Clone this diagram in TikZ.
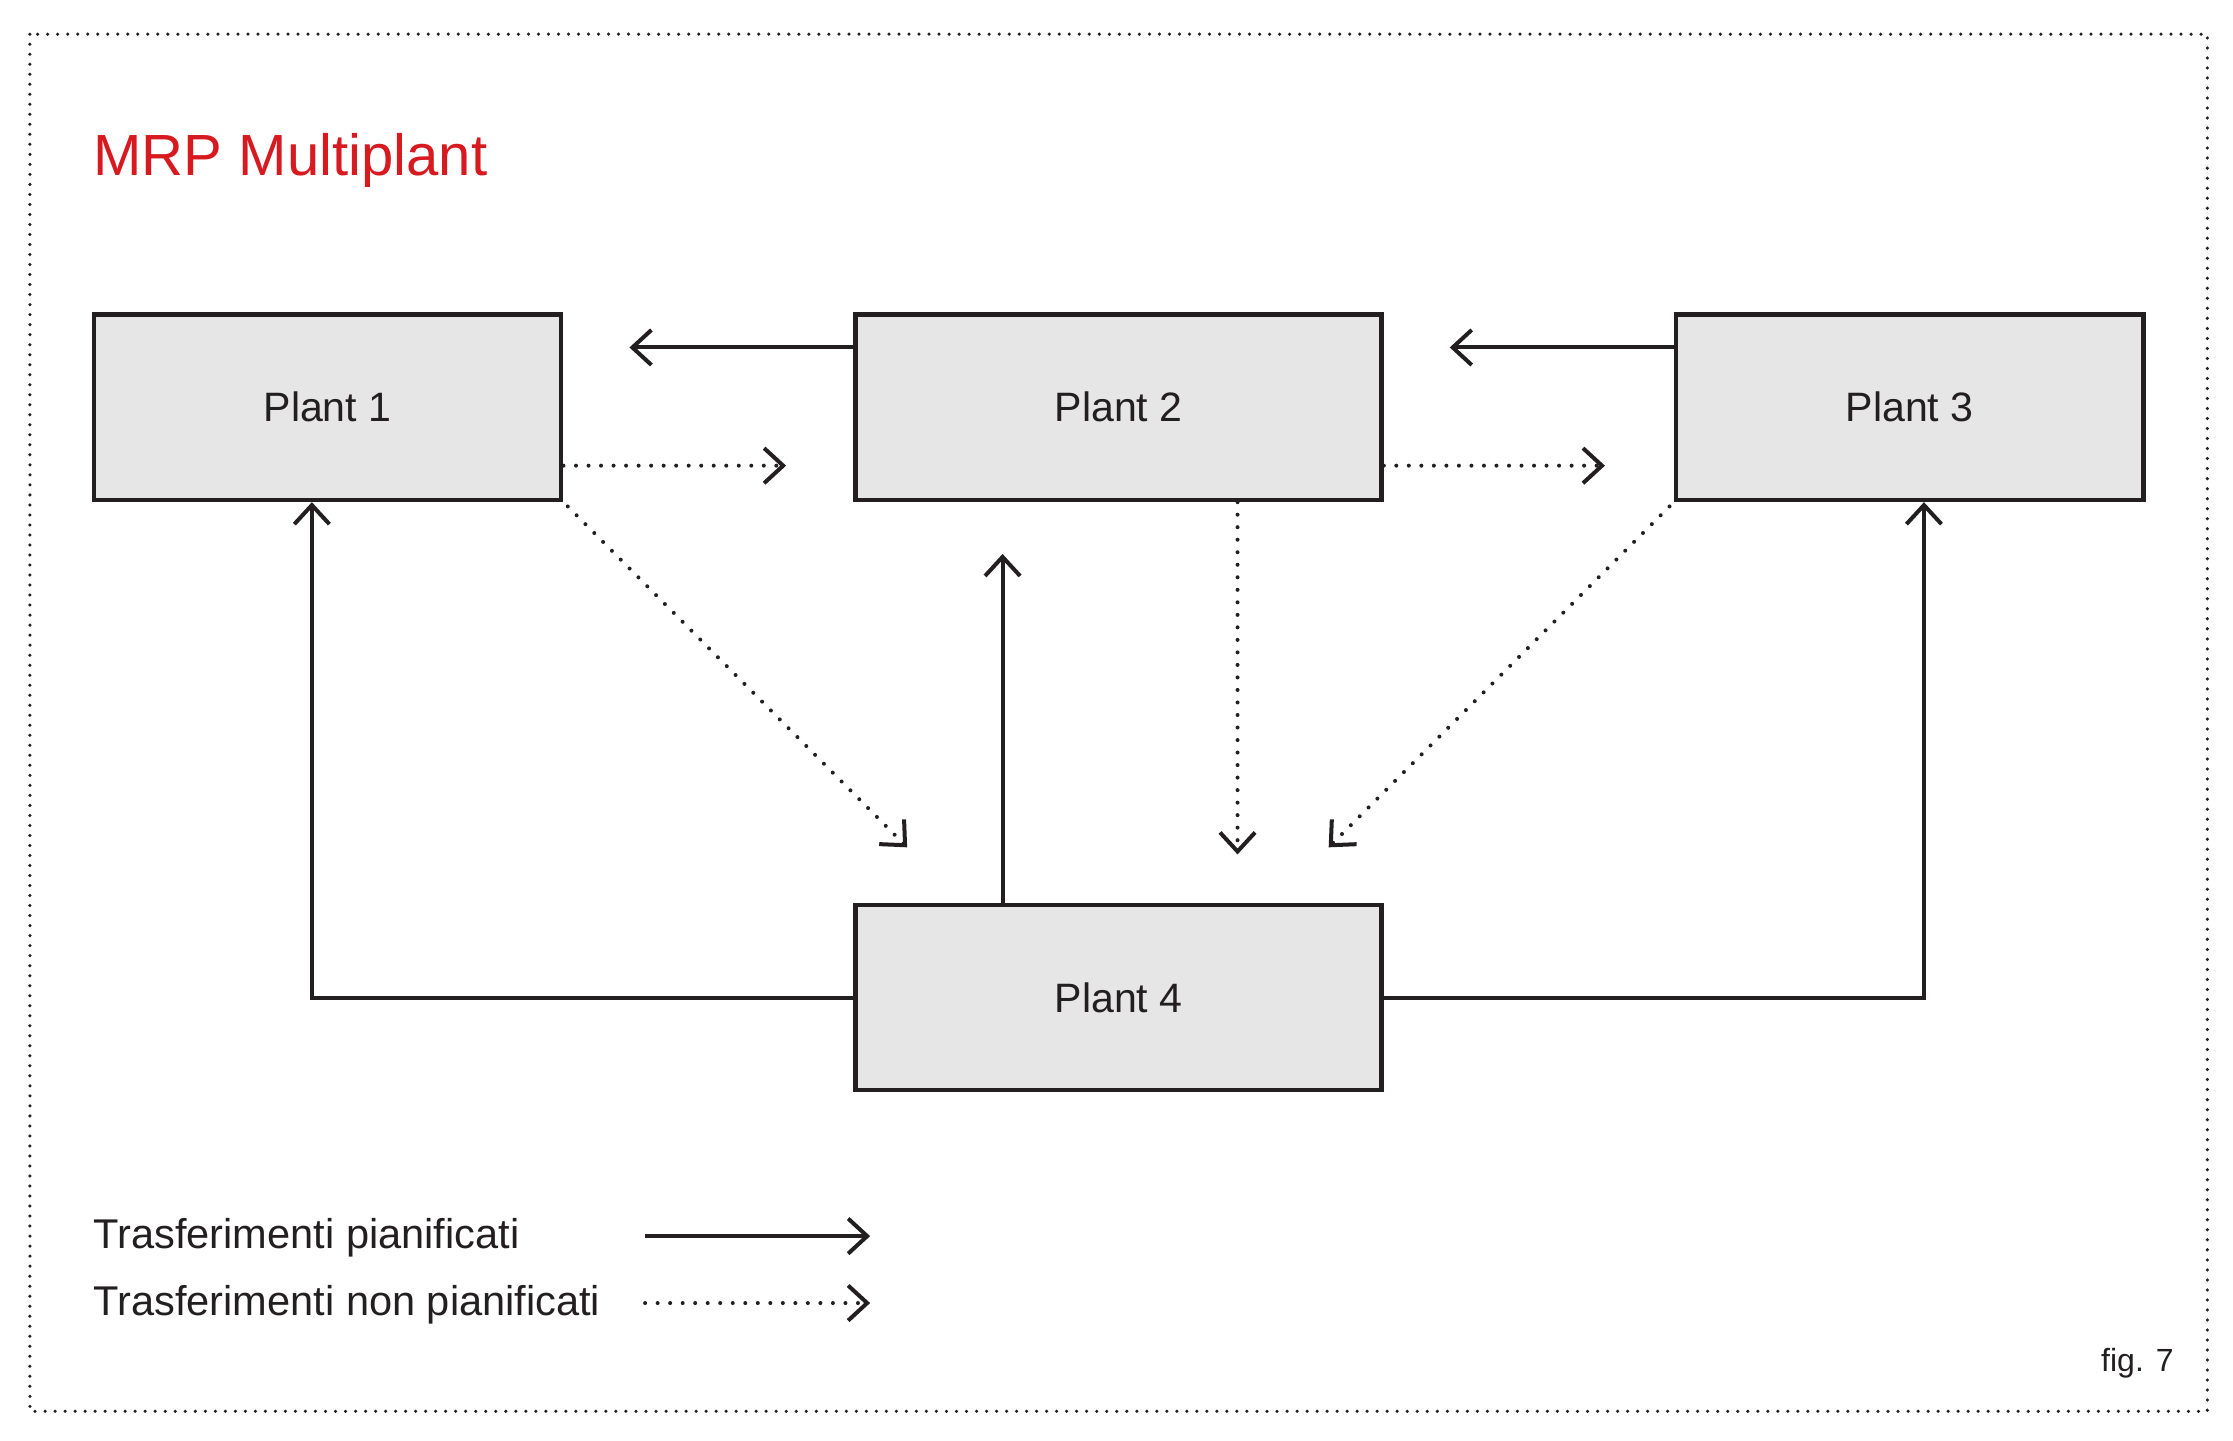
\documentclass[tikz,border=0pt]{standalone}
\usepackage{fontspec}
\setmainfont{Liberation Sans}
\usetikzlibrary{arrows.meta}
\definecolor{ink}{HTML}{231F20}
\definecolor{boxgray}{HTML}{E6E6E6}
\definecolor{titlered}{HTML}{D71920}
\tikzset{
  plant/.style={draw=ink, fill=boxgray, line width=0.9pt, minimum height=1.3cm,
    inner sep=0pt, text=ink, font=\fontsize{8.2}{10}\selectfont},
  planned/.style={draw=ink, line width=0.8pt, -{Straight Barb[length=3.8pt,width=7pt]}},
  unplanned/.style={planned, line cap=round, dash pattern=on 0pt off 2.5pt},
  legend/.style={anchor=base west, inner sep=0pt, text=ink, font=\fontsize{8.3}{10}\selectfont},
}
\begin{document}
\begin{tikzpicture}[x=0.01cm, y=-0.01cm]
        \useasboundingbox (0,0) rectangle (1568,1011.2);
        \draw[ink, line width=0.7pt, line cap=round, dash pattern=on 0pt off 2pt] (21,24) rectangle (1550,991);

        \node[anchor=base west, inner sep=0pt, text=titlered, font=\fontsize{11.6}{14}\selectfont] (title) at (65,123) {MRP Multiplant};

        \node[plant, minimum width=3.28cm] (p1) at (230,286) {Plant 1};
        \node[plant, minimum width=3.69cm] (p2) at (785.5,286) {Plant 2};
        \node[plant, minimum width=3.28cm] (p3) at (1341,286) {Plant 3};
        \node[plant, minimum width=3.69cm] (p4) at (785.5,700.5) {Plant 4};

        \coordinate (e21) at (442,244);
        \coordinate (e32) at (1018,244);
        \coordinate (e12) at (552,327);
        \coordinate (e23) at (1127,327);
        \coordinate (e14) at (637,595);
        \coordinate (e24) at (869,600);
        \coordinate (e34) at (933,595);
        \coordinate (e42) at (704,389);

        \draw[planned] (p2.west |- e21) -- (e21);
        \draw[planned] (p3.west |- e32) -- (e32);
        \draw[unplanned] (p1.east |- e12) -- (e12);
        \draw[unplanned] (p2.east |- e23) -- (e23);
        \draw[unplanned] ([shift={(3,3)}]p1.south east) -- (e14);
        \draw[unplanned] (p2.south -| e24) -- (e24);
        \draw[unplanned] ([shift={(-3,3)}]p3.south west) -- (e34);
        \draw[planned] (p4.north -| e42) -- (e42);
        \draw[planned] (p4.west) -| ([xshift=-0.11cm]p1.south);
        \draw[planned] (p4.east) -| ([xshift=0.1cm]p3.south);

        \node[legend] (lg1) at (65,877) {Trasferimenti pianificati};
        \node[legend] (lg2) at (65,924) {Trasferimenti non pianificati};
        \coordinate (l1a) at (453,868);
        \coordinate (l1b) at (611,868);
        \coordinate (l2a) at (453,915);
        \coordinate (l2b) at (611,915);
        \draw[planned] (l1a) -- (l1b);
        \draw[unplanned] (l2a) -- (l2b);

        \node[anchor=base east, inner sep=0pt, text=ink, font=\fontsize{6.4}{8}\selectfont] (fig) at (1527,963) {fig. 7};
      \end{tikzpicture}
\end{document}
